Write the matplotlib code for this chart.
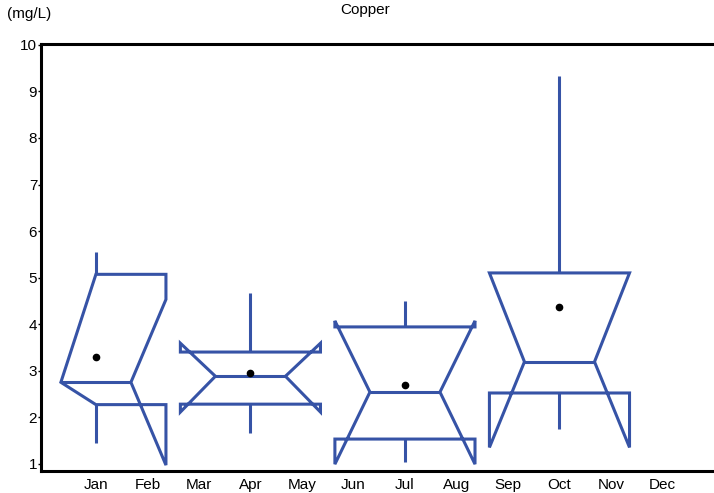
import matplotlib
matplotlib.use('Agg')
import matplotlib.pyplot as plt
from matplotlib.patches import Polygon

plt.rcParams['font.family'] = ['Liberation Sans', 'DejaVu Sans']

months = ['Jan', 'Feb', 'Mar', 'Apr', 'May', 'Jun', 'Jul', 'Aug', 'Sep', 'Oct', 'Nov', 'Dec']
box_pos = [1, 4, 7, 10]
q1 = [2.27, 2.28, 1.53, 2.52]
q3 = [5.07, 3.40, 3.94, 5.10]
median = [2.75, 2.88, 2.54, 3.19]
notch_lo = [0.97, 2.11, 0.99, 1.35]
notch_hi = [4.53, 3.59, 4.07, 5.10]
whisk_lo = [1.45, 1.66, 1.03, 1.74]
whisk_hi = [5.54, 4.67, 4.50, 9.33]
means = [3.30, 2.95, 2.69, 4.37]

blue = '#3653a6'
half_w = 1.36
xmin, xmax = -0.06, 13.0

fig = plt.figure(figsize=(7.14, 4.93), dpi=100)
ax = fig.add_axes([41.3 / 714, 1 - 470.7 / 493, 1 - 41.3 / 714, (470.7 - 44) / 493])

for i, c in enumerate(box_pos):
    xl = c - half_w
    nl_left, nh_left = notch_lo[i], notch_hi[i]
    if xl < xmin:
        # left half falls off the axis: drawn collapsed onto the centre line
        xl = c
        nl_left, nh_left = q1[i], q3[i]
    xr = c + half_w
    mw = half_w / 2
    pts = [(xl, q1[i]), (xl, nl_left), (c - mw, median[i]), (xl, nh_left), (xl, q3[i]),
           (xr, q3[i]), (xr, notch_hi[i]), (c + mw, median[i]), (xr, notch_lo[i]), (xr, q1[i])]
    ax.add_patch(Polygon(pts, closed=True, fill=False, edgecolor=blue, lw=2.2, joinstyle='miter'))
    ax.plot([c - mw, c + mw], [median[i], median[i]], color=blue, lw=2.2, solid_capstyle='butt')
    ax.plot([c, c], [q3[i], whisk_hi[i]], color=blue, lw=2.2, solid_capstyle='butt')
    ax.plot([c, c], [q1[i], whisk_lo[i]], color=blue, lw=2.2, solid_capstyle='butt')
    ax.plot(c, means[i], 'o', color='black', markersize=4.5)

ax.set_xlim(xmin, xmax)
ax.set_ylim(0.85, 10.02)
ax.set_xticks(range(1, 13))
ax.set_xticklabels(months)
ax.set_yticks(range(1, 11))
ax.tick_params(axis='x', length=0, pad=5, labelsize=11)
ax.tick_params(axis='y', length=2, width=1, pad=1, labelsize=11)
ax.spines['right'].set_visible(False)
for s in ['left', 'bottom', 'top']:
    ax.spines[s].set_linewidth(2.2)

fig.text(365 / 714, 1 - 10 / 493, 'Copper', ha='center', va='center', fontsize=11)
fig.text(7 / 714, 1 - 14 / 493, '(mg/L)', ha='left', va='center', fontsize=11)

plt.savefig('out.png', dpi=100)
